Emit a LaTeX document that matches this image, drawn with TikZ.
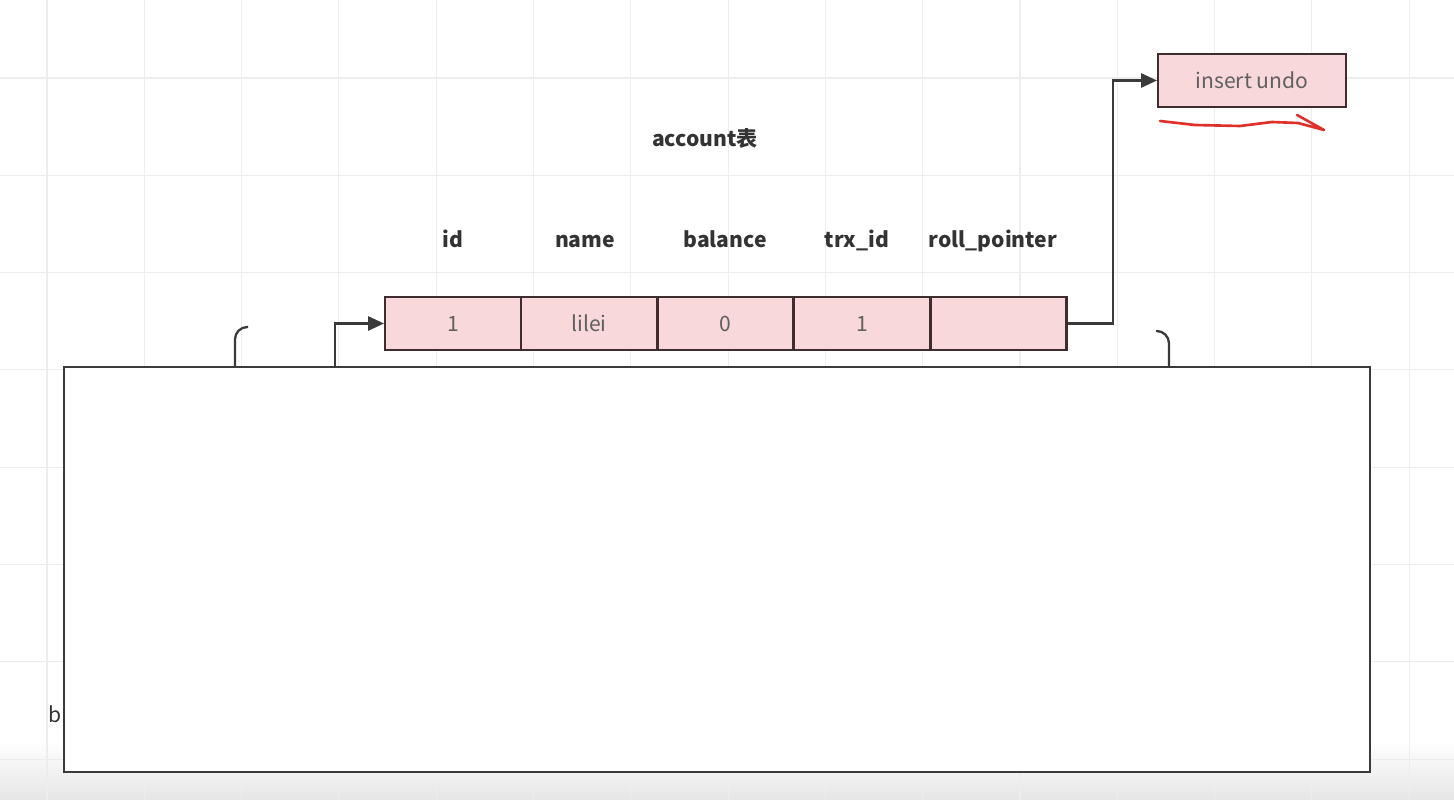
\documentclass[tikz,border=0pt]{standalone}
\usepackage{fontspec}
\setmainfont{Noto Sans CJK SC}
\usetikzlibrary{arrows.meta}
\definecolor{cellpink}{HTML}{F8D8DA}
\definecolor{cellline}{HTML}{3E2C2E}
\definecolor{wire}{HTML}{3A3A3A}
\definecolor{celltext}{HTML}{606060}
\definecolor{penred}{HTML}{E0302A}
\begin{document}
\begin{tikzpicture}%
	[x={(0.02cm, 0cm)},
	y={(0cm, -0.02cm)},
	grid/.style={color=black!7, line width=0.6pt},
	cell/.style={draw=cellline, fill=cellpink, line width=1.2pt, minimum width=2.72cm, minimum height=1.06cm, inner sep=0pt, text=celltext, font=\fontsize{12}{14}\selectfont},
	header/.style={font=\fontsize{12}{14}\selectfont\bfseries, text=black!80, anchor=base},
	wire/.style={color=wire, line width=1.3pt},
	link/.style={wire, -{Triangle[length=9pt, width=8pt]}},
	hook/.style={wire, rounded corners=7pt},
	scribble/.style={color=penred, line width=1.5pt, line cap=round, line join=round}]
%
%% Canvas
%%
\useasboundingbox (0,0) rectangle (1454,800);
\fill[white] (0,0) rectangle (1454,800);
\shade[top color=white, bottom color=black!10] (0,740) rectangle (1454,800);
\foreach \gx in {47,144.3,...,1454} {\draw[grid] (\gx,0) -- (\gx,800);}
\foreach \gy in {78,175.3,...,800} {\draw[grid] (0,\gy) -- (1454,\gy);}
%%
%% Titles
%%
\node[header] (title) at (705,147) {account表};
\node[header] (hid) at (453,248) {id};
\node[header] (hname) at (585,248) {name};
\node[header] (hbalance) at (725,248) {balance};
\node[header] (htrx) at (857,248) {trx\_id};
\node[header] (hroll) at (993,248) {roll\_pointer};
%%
%% Row of the table
%%
\node[cell] (cid) at (453,323.5) {1};
\node[cell] (cname) at (589,323.5) {lilei};
\node[cell] (cbalance) at (725.5,323.5) {0};
\node[cell] (ctrx) at (862,323.5) {1};
\node[cell] (croll) at (998.5,323.5) {};
%%
%% Undo log
%%
\node[cell, minimum width=3.76cm] (undo) at (1252,80.5) {insert undo};
\draw[scribble] (1160,121) -- (1195,125) -- (1240,126) -- (1272,122) -- (1298,123) -- (1324,130) -- (1297,115);
%%
%% Page box
%%
\node[draw=wire, fill=white, line width=1.3pt, minimum width=26.12cm, minimum height=8.1cm, inner sep=0pt] (page) at (717,569.5) {};
\node[font=\fontsize{12}{14}\selectfont, text=black!80, anchor=east, inner sep=0pt] (b) at ([xshift=-0.4pt, yshift=-2.9cm]page.west) {b};
%%
%% Connectors
%%
\coordinate (pin) at (335,367);
\coordinate (hookl) at (235,367);
\coordinate (hookr) at (1169,367);
\draw[link] (pin) |- (cid.west);
\draw[link] (croll.east) -- (1113,323.5) |- (undo.west);
\draw[hook] (hookl) -- (235,327) -- (248,327);
\draw[hook] (hookr) -- (1169,331) -- (1156,331);
%%
\end{tikzpicture}
\end{document}
